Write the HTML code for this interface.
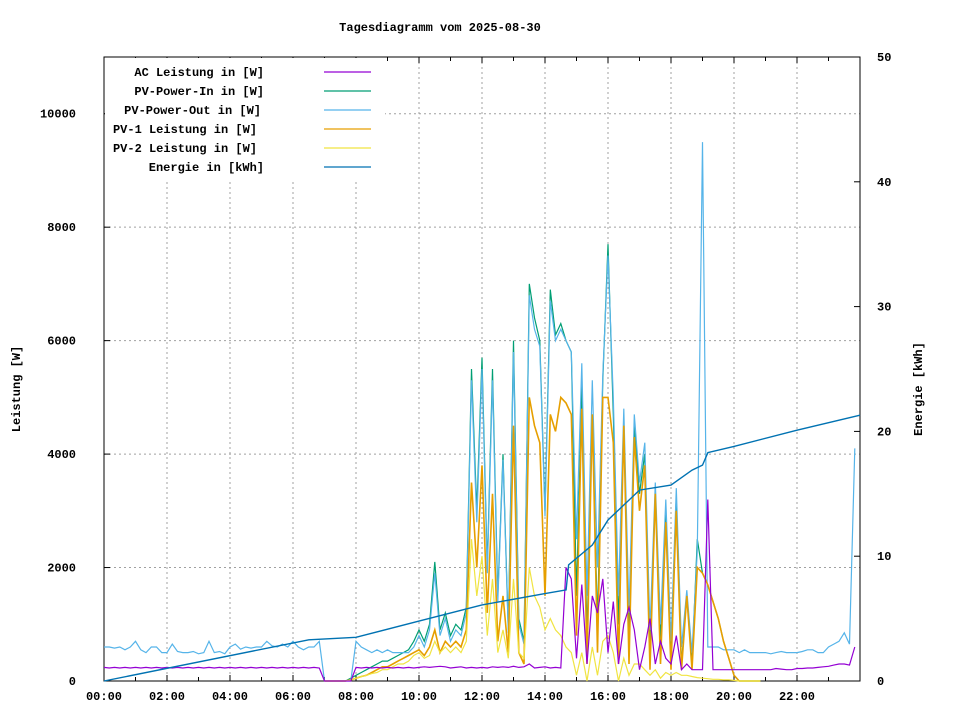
<!DOCTYPE html>
<html><head><meta charset="utf-8"><style>
html,body{margin:0;padding:0;background:#fff;}
svg{display:block;font-family:"Liberation Mono",monospace;font-size:12px;font-weight:bold;}
</style></head><body>
<svg id="chart" width="960" height="720" viewBox="0 0 960 720">
<text x="440" y="31" text-anchor="middle">Tagesdiagramm vom 2025-08-30</text>
<g id="grid"></g>
<g id="axes"></g>
<g id="series"></g>
<g id="legend"></g>
<text transform="translate(20,389) rotate(-90)" text-anchor="middle">Leistung [W]</text>
<text transform="translate(922,389) rotate(-90)" text-anchor="middle">Energie [kWh]</text>
</svg>
<script>
// ---- data ----
const xTickLabels = ["00:00","02:00","04:00","06:00","08:00","10:00","12:00","14:00","16:00","18:00","20:00","22:00"];
const yTicks = [0,2000,4000,6000,8000,10000];
const y2Ticks = [0,10,20,30,40,50];
// day series: 10-minute samples from 07:00 to 20:50
const dayStartHour = 7;
const pvIn = [0,0,0,0,0,50, 100,150,200,250,300,350, 350,400,450,500,550,700, 900,700,1000,2100,900,1200,
 800,1000,900,1300,5500,3000, 5700,2000,5500,1500,4000,900, 6000,1100,700,7000,6400,6000,
 3000,6900,6100,6300,6000,5800, 1500,5200,800,4700,1000,5300, 7700,4700,1000,4500,800,4500,
 3300,4000,600,3300,700,3000, 400,3200,300,1500,300,2500, 1900,1700,1400,1100,700,400, 100,0,0,0,0,0];
const pv1 = [0,0,0,0,0,20, 50,80,100,150,200,250, 250,300,350,400,450,500, 550,450,600,900,500,700,
 600,700,600,900,3500,2000, 3800,1200,3300,700,1500,500, 4500,500,300,5000,4500,4200,
 1500,4700,4400,5000,4900,4700, 800,4800,300,4700,500,5000, 5000,4200,300,4500,300,4300,
 3000,3800,200,3300,300,2800, 200,3000,200,1500,200,2000, 1900,1700,1400,1100,700,400, 100,0,0,0,0,0];
const pv2 = [0,0,0,0,0,20, 50,80,100,130,150,200, 200,250,300,300,350,450, 500,400,450,700,500,600,
 500,600,500,700,2500,1500, 2200,800,1800,500,900,400, 1800,500,400,2000,1500,1300,
 900,1100,900,800,600,500, 100,500,0,600,100,700, 800,500,0,400,100,300,
 300,200,100,200,50,150, 100,150,100,100,80,60, 50,40,30,30,20,20, 10,0,0,0,0,0];
// full-day series: 10-minute samples 00:00 .. 23:50
const pvOut = [600,600,580,600,550,600, 700,550,500,600,600,500, 500,650,520,500,500,520, 480,500,700,500,520,480,
 600,650,560,600,580,600, 600,700,620,600,650,600, 700,600,550,600,600,700, 0,0,0,0,0,0,
 700,600,550,500,550,500, 550,500,500,500,500,600, 800,600,900,1900,800,1100, 700,900,800,1200,5300,2800,
 5500,1900,5300,1400,3900,850, 5800,1000,650,6800,6200,5900, 2900,6700,6000,6200,6000,5800, 2500,5600,1500,5300,2000,5400,
 7500,5000,1500,4800,1200,4700, 3500,4200,900,3500,1000,3200, 700,3400,600,1600,500,2300, 9500,600,600,600,550,550,
 550,500,550,500,500,500, 500,480,500,520,500,500, 500,520,550,550,500,500, 600,650,700,850,650,4100];
const acPower = [240,230,240,230,240,230, 240,230,240,230,240,230, 240,230,240,230,240,230, 240,230,240,230,240,230,
 240,230,240,230,240,230, 240,230,240,230,240,230, 240,230,240,230,240,230, 0,0,0,0,0,0,
 240,230,240,230,240,230, 240,230,240,230,240,230, 240,250,240,250,260,250, 230,240,250,230,240,230,
 240,230,250,240,250,240, 260,240,250,300,230,240, 250,230,240,230,2000,1800, 400,1700,300,1500,1200,1800,
 500,1400,300,1000,1300,900, 200,600,1100,300,700,400, 300,800,200,300,200,200, 200,3200,200,200,200,200,
 200,200,200,200,200,200, 200,200,220,210,200,200, 220,220,230,230,240,250, 260,280,300,300,280,600];
const energyHours = [0,6.5,8,10,12,14,14.67,14.75,15.5,16,17,18,18.67,19,19.17,20,22,24];
const energyValues = [0,3.3,3.5,4.8,6.1,7.0,7.3,9.3,10.9,12.9,15.3,15.7,16.9,17.3,18.3,18.8,20.1,21.3];

// ---- layout ----
const L=104,R=860,T=57,B=681;
const xs=h=>L+(R-L)*h/24;
const ys=v=>B-(B-T)*v/11000;
const y2s=v=>B-(B-T)*v/50;
const NS="http://www.w3.org/2000/svg";
function mk(parent,tag,attrs){const e=document.createElementNS(NS,tag);for(const k in attrs)e.setAttribute(k,attrs[k]);parent.appendChild(e);return e;}
const grid=document.getElementById('grid'),axes=document.getElementById('axes'),series=document.getElementById('series'),legend=document.getElementById('legend');

// grid
xTickLabels.forEach((lab,i)=>{const x=xs(i*2);
 if(i>0){const g=mk(grid,'line',{x1:x,x2:x,y1:T,y2:B,stroke:'#a0a0a0','stroke-dasharray':'2,3'});
 
 }
 const t=mk(axes,'text',{x:x,y:700,'text-anchor':'middle'});t.textContent=lab;
 
 });
for(let h=0;h<=24;h++){const x=xs(h);const len=h%2===0?6:4;
 mk(axes,'line',{x1:x,x2:x,y1:B,y2:B-len,stroke:'#000'});mk(axes,'line',{x1:x,x2:x,y1:T,y2:T+len,stroke:'#000'});}
yTicks.forEach(v=>{const y=ys(v);
 if(v>0){const g=mk(grid,'line',{x1:L,x2:R,y1:y,y2:y,stroke:'#a0a0a0','stroke-dasharray':'2,3'});
 
 }
 mk(axes,'line',{x1:L,x2:L+6,y1:y,y2:y,stroke:'#000'});
 const t=mk(axes,'text',{x:76,y:y+4,'text-anchor':'end'});t.textContent=v;
 
 });
y2Ticks.forEach(v=>{const y=y2s(v);
 mk(axes,'line',{x1:R-6,x2:R,y1:y,y2:y,stroke:'#000'});
 const t=mk(axes,'text',{x:877,y:y+4,'text-anchor':'start'});t.textContent=v;
 
 });
const frame=mk(axes,'rect',{x:L,y:T,width:R-L,height:B-T,fill:'none',stroke:'#000'});



// series
function dayPts(arr){return arr.map((v,i)=>xs(dayStartHour+i/6).toFixed(1)+','+ys(v).toFixed(1)).join(' ');}
function fullPts(arr){return arr.map((v,i)=>xs(i/6).toFixed(1)+','+ys(v).toFixed(1)).join(' ');}
function line(pts,color,name,w){const p=mk(series,'polyline',{points:pts,fill:'none',stroke:color,'stroke-width':w||1.2,'stroke-linejoin':'miter'});
 
 }
line(dayPts(pvIn),'#009e73','pv-power-in-line');
line(fullPts(pvOut),'#56b4e9','pv-power-out-line');
line(dayPts(pv1),'#e69f00','pv1-line',1.6);
line(dayPts(pv2),'#f0e442','pv2-line');
line(fullPts(acPower),'#9400d3','ac-power-line');
line(energyHours.map((h,i)=>xs(h).toFixed(1)+','+y2s(energyValues[i]).toFixed(1)).join(' '),'#0072b2','energy-line',1.4);

// legend
const bg=mk(legend,'rect',{x:L+1,y:T+1,width:280,height:122,fill:'#fff'});


const legLabels=["AC Leistung in [W]","PV-Power-In in [W]","PV-Power-Out in [W]","PV-1 Leistung in [W]","PV-2 Leistung in [W]","Energie in [kWh]"];
const legColors=["#9400d3","#009e73","#56b4e9","#e69f00","#f0e442","#0072b2"];
legLabels.forEach((lab,i)=>{const y=74+i*19;
 const t=mk(legend,'text',{x:264-(i===2?3:0)-(i===3||i===4?7:0),y:y+2,'text-anchor':'end'});t.textContent=lab;
 
 
 const l=mk(legend,'line',{x1:324,x2:371,y1:y-2,y2:y-2,stroke:legColors[i],'stroke-width':1.2});
 
 });
</script>
</body></html>
